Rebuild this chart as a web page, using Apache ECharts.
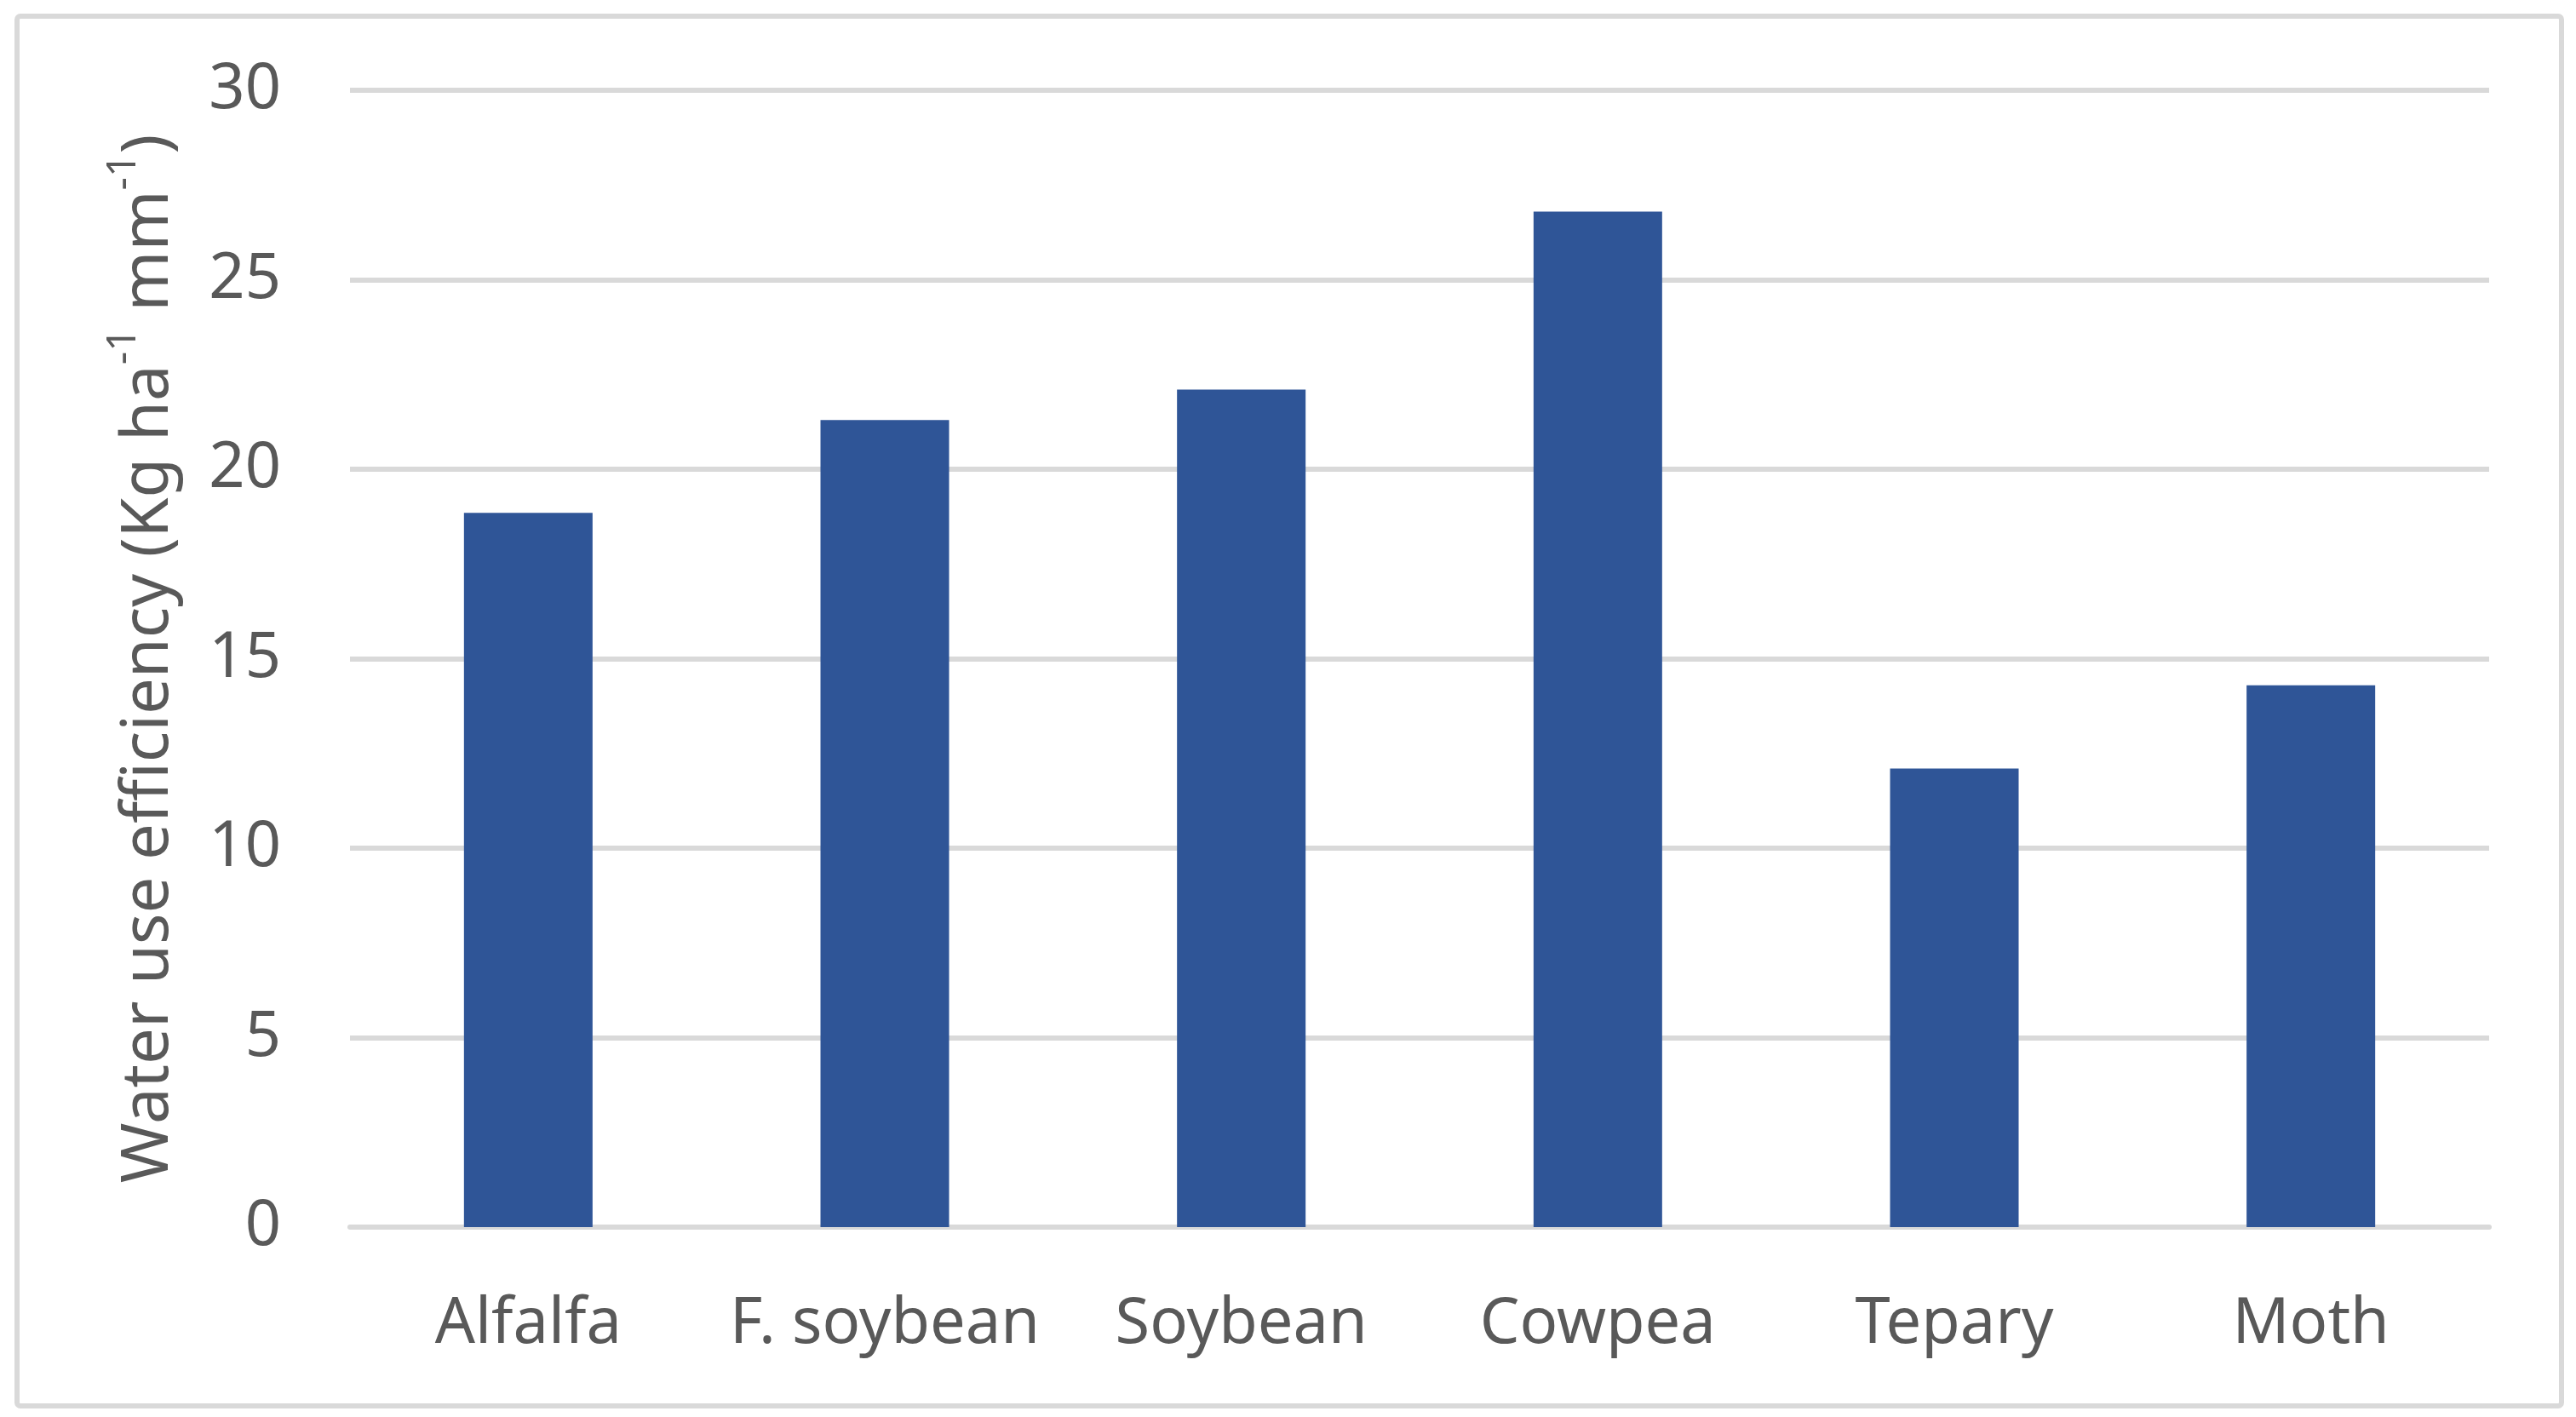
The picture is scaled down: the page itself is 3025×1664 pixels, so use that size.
<!DOCTYPE html>
<html>
<head>
<meta charset="utf-8">
<script src="https://cdn.jsdelivr.net/npm/echarts@6/dist/echarts.min.js"></script>
<style>
html,body{margin:0;padding:0;background:#fff;}
#chart{width:3025px;height:1664px;}
</style>
</head>
<body>
<div id="chart"></div>
<script>
const categories = ['Alfalfa', 'F. soybean', 'Soybean', 'Cowpea', 'Tepary', 'Moth'];
const values = [18.85, 21.3, 22.1, 26.8, 12.1, 14.3];
const yTicks = { min: 0, max: 30, interval: 5 };

const FONT = 'Noto Sans';
const TEXT = '#595959';
const GRID = '#d9d9d9';

const chart = echarts.init(document.getElementById('chart'), null, { renderer: 'canvas' });
chart.setOption({
  backgroundColor: '#ffffff',
  animation: false,
  graphic: [{
    type: 'rect',
    shape: { x: 20, y: 19, width: 2988, height: 1632, r: 4 },
    style: { fill: 'none', stroke: GRID, lineWidth: 6 },
    z: 0
  }],
  grid: { left: 411, right: 102, top: 106, bottom: 223, containLabel: false },
  xAxis: {
    type: 'category',
    data: categories,
    axisLine: { show: true, lineStyle: { color: GRID, width: 6 } },
    axisTick: { show: false },
    axisLabel: { color: TEXT, fontFamily: FONT, fontSize: 74, margin: 78, interval: 0 }
  },
  yAxis: {
    type: 'value',
    min: yTicks.min, max: yTicks.max, interval: yTicks.interval,
    axisLine: { show: false },
    axisTick: { show: false },
    splitLine: { show: true, lineStyle: { color: GRID, width: 6 } },
    axisLabel: { color: TEXT, fontFamily: FONT, fontSize: 74, margin: 81 },
    name: '{a|Water use efficiency (Kg ha}{s|-1}{a| mm}{s|-1}{a|)}',
    nameLocation: 'middle',
    nameRotate: 90,
    nameGap: 198,
    nameTextStyle: {
      color: TEXT,
      fontFamily: FONT,
      rich: {
        a: { fontSize: 76, fontFamily: FONT, color: TEXT, verticalAlign: 'bottom', lineHeight: 92 },
        s: { fontSize: 48, fontFamily: FONT, color: TEXT, verticalAlign: 'top', lineHeight: 92 }
      }
    }
  },
  series: [{
    type: 'bar',
    data: values,
    barWidth: 151,
    itemStyle: { color: '#2F5597' }
  }]
});
</script>
</body>
</html>
